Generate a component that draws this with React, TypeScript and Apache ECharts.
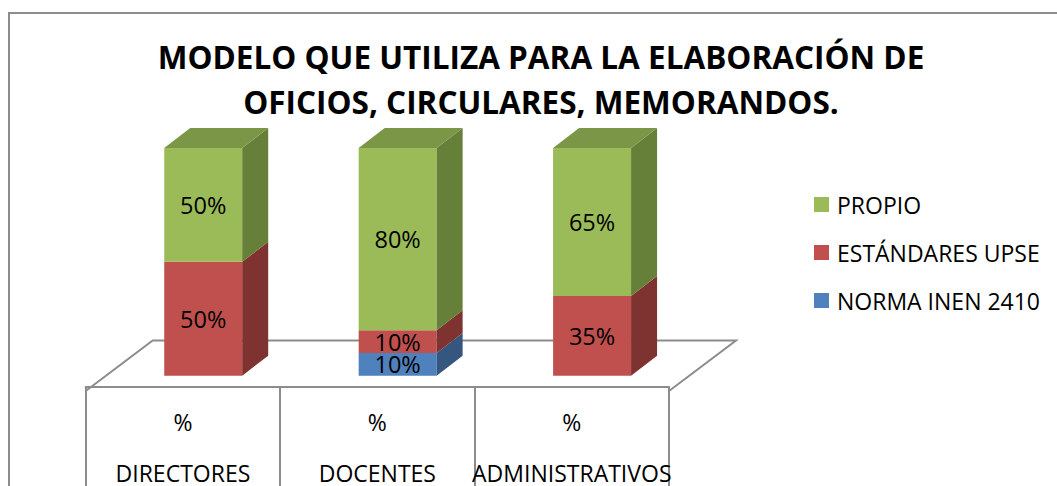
import React, { useEffect, useRef } from "react";
import * as echarts from "echarts";

const categories = ["DIRECTORES", "DOCENTES", "ADMINISTRATIVOS"];
const seriesNames = ["NORMA INEN 2410", "ESTÁNDARES UPSE", "PROPIO"];
const normaValues = [0, 10, 0];
const estandaresValues = [50, 10, 35];
const propioValues = [50, 80, 65];
const legendOrder = ["PROPIO", "ESTÁNDARES UPSE", "NORMA INEN 2410"];
const titleLines = ["MODELO QUE UTILIZA PARA LA ELABORACIÓN DE", "OFICIOS, CIRCULARES, MEMORANDOS."];

const FONT = "'Open Sans', 'Noto Sans', sans-serif";
const frontColors = ["#4F81BD", "#C0504D", "#9BBB59"];
const sideColors = ["#35567F", "#7F3331", "#66803A"];
const topColors = ["#4470A5", "#A5433F", "#7A9646"];
const GRAY = "#8c8c8c";

// 3D geometry
const BAR_FRAC = 0.401;
const SIDE_DX = 26;
const SIDE_DY = 20;
const FLOOR_FRONT_DX = 20.3;
const FLOOR_FRONT_DY = 15.3;
const FLOOR_DX = 67;
const FLOOR_DY = 50.5;

export default function App() {
  const ref = useRef<HTMLDivElement>(null);

  useEffect(() => {
    if (!ref.current) return;
    const chart = echarts.init(ref.current, undefined, { renderer: "svg" });

    const valueSets = [normaValues, estandaresValues, propioValues];
    const totals = categories.map((_, i) => valueSets.reduce((s, arr) => s + arr[i], 0));

    const segSeries = seriesNames.map((name, s) => {
      const data = categories.map((_, i) => {
        let base = 0;
        for (let k = 0; k < s; k++) base += valueSets[k][i];
        return [i, base, base + valueSets[s][i]];
      });
      return {
        type: "custom",
        name,
        xAxisIndex: 0,
        yAxisIndex: 0,
        z: 3,
        itemStyle: { color: frontColors[s] },
        encode: { x: 0, y: [1, 2] },
        data,
        renderItem: (params: any, api: any) => {
          const cat = api.value(0);
          const start = api.value(1);
          const end = api.value(2);
          if (end - start <= 0) return { type: "group", children: [] };
          const bandW = api.size([1, 0])[0];
          const w = bandW * BAR_FRAC;
          const pb = api.coord([cat, start]);
          const pt = api.coord([cat, end]);
          const cx = pb[0];
          const yb = pb[1];
          const yt = pt[1];
          const xl = cx - w / 2;
          const xr = cx + w / 2;
          const children: any[] = [
            {
              type: "rect",
              shape: { x: xl, y: yt, width: w, height: yb - yt },
              style: { fill: frontColors[s] },
            },
            {
              type: "polygon",
              shape: {
                points: [
                  [xr, yb],
                  [xr + SIDE_DX, yb - SIDE_DY],
                  [xr + SIDE_DX, yt - SIDE_DY],
                  [xr, yt],
                ],
              },
              style: { fill: sideColors[s] },
            },
          ];
          if (Math.abs(end - totals[cat]) < 1e-9) {
            children.push({
              type: "polygon",
              shape: {
                points: [
                  [xl, yt],
                  [xr, yt],
                  [xr + SIDE_DX, yt - SIDE_DY],
                  [xl + SIDE_DX, yt - SIDE_DY],
                ],
              },
              style: { fill: topColors[s] },
            });
          }
          children.push({
            type: "text",
            x: cx,
            y: (yt + yb) / 2,
            style: {
              text: `${end - start}%`,
              align: "center",
              verticalAlign: "middle",
              fontSize: 23.5,
              fontFamily: FONT,
              fill: "#000",
            },
          });
          return { type: "group", children };
        },
      };
    });

    const floorSeries = {
      type: "custom",
      xAxisIndex: 0,
      yAxisIndex: 0,
      z: 1,
      silent: true,
      encode: { x: 0, y: 1 },
      data: [[0, 0]],
      renderItem: (params: any, api: any) => {
        const bandW = api.size([1, 0])[0];
        const p0 = api.coord([0, 0]);
        const pLast = api.coord([categories.length - 1, 0]);
        const leftX = p0[0] - bandW / 2 - FLOOR_FRONT_DX;
        const rightX = pLast[0] + bandW / 2 - FLOOR_FRONT_DX;
        const frontY = p0[1] + FLOOR_FRONT_DY;
        const backY = frontY - FLOOR_DY;
        return {
          type: "polyline",
          shape: {
            points: [
              [leftX, frontY],
              [leftX + FLOOR_DX, backY],
              [rightX + FLOOR_DX, backY],
              [rightX, frontY],
            ],
          },
          style: { stroke: GRAY, lineWidth: 2, fill: "none" },
        };
      },
    };

    chart.setOption({
      animation: false,
      backgroundColor: "#fff",
      title: {
        text: titleLines.join("\n"),
        left: 536,
        top: 29,
        textAlign: "center",
        textStyle: {
          fontFamily: FONT,
          fontWeight: "bold",
          fontSize: 31.5,
          lineHeight: 45,
          color: "#000",
        },
      },
      legend: {
        data: legendOrder,
        orient: "vertical",
        left: 809,
        top: 188,
        icon: "rect",
        itemWidth: 15,
        itemHeight: 15,
        itemGap: 25,
        textStyle: {
          fontFamily: FONT,
          fontSize: 23,
          lineHeight: 23,
          color: "#000",
          padding: [0, 0, 0, 3],
        },
      },
      grid: [
        { left: 106, right: 1057 - 689.3, top: 148, bottom: 486 - 375.7 },
        { left: 85.7, right: 1057 - 669, top: 380, bottom: 486 - 391 },
      ],
      xAxis: [
        {
          type: "category",
          gridIndex: 0,
          data: categories,
          show: false,
        },
        {
          type: "category",
          gridIndex: 1,
          data: categories,
          position: "bottom",
          axisLine: { show: true, lineStyle: { color: GRAY, width: 2 } },
          axisTick: { show: true, length: 110, lineStyle: { color: GRAY, width: 2 } },
          axisLabel: {
            interval: 0,
            margin: 23,
            formatter: (v: string) => `%\n\n${v}`,
            fontFamily: FONT,
            fontSize: 23,
            lineHeight: 25.5,
            color: "#000",
          },
          splitLine: { show: false },
        },
      ],
      yAxis: [
        { type: "value", gridIndex: 0, min: 0, max: 100, show: false },
        { type: "value", gridIndex: 1, show: false },
      ],
      graphic: [
        {
          type: "polyline",
          shape: { points: [[9, 486], [9, 13], [1057, 13]] },
          style: { stroke: GRAY, lineWidth: 2, fill: "none" },
          z: 100,
        },
      ],
      series: [floorSeries, ...segSeries],
    });

    return () => chart.dispose();
  }, []);

  return (
    <div
      ref={ref}
      style={{ position: "absolute", left: 0, top: 0, width: 1057, height: 486 }}
    />
  );
}
